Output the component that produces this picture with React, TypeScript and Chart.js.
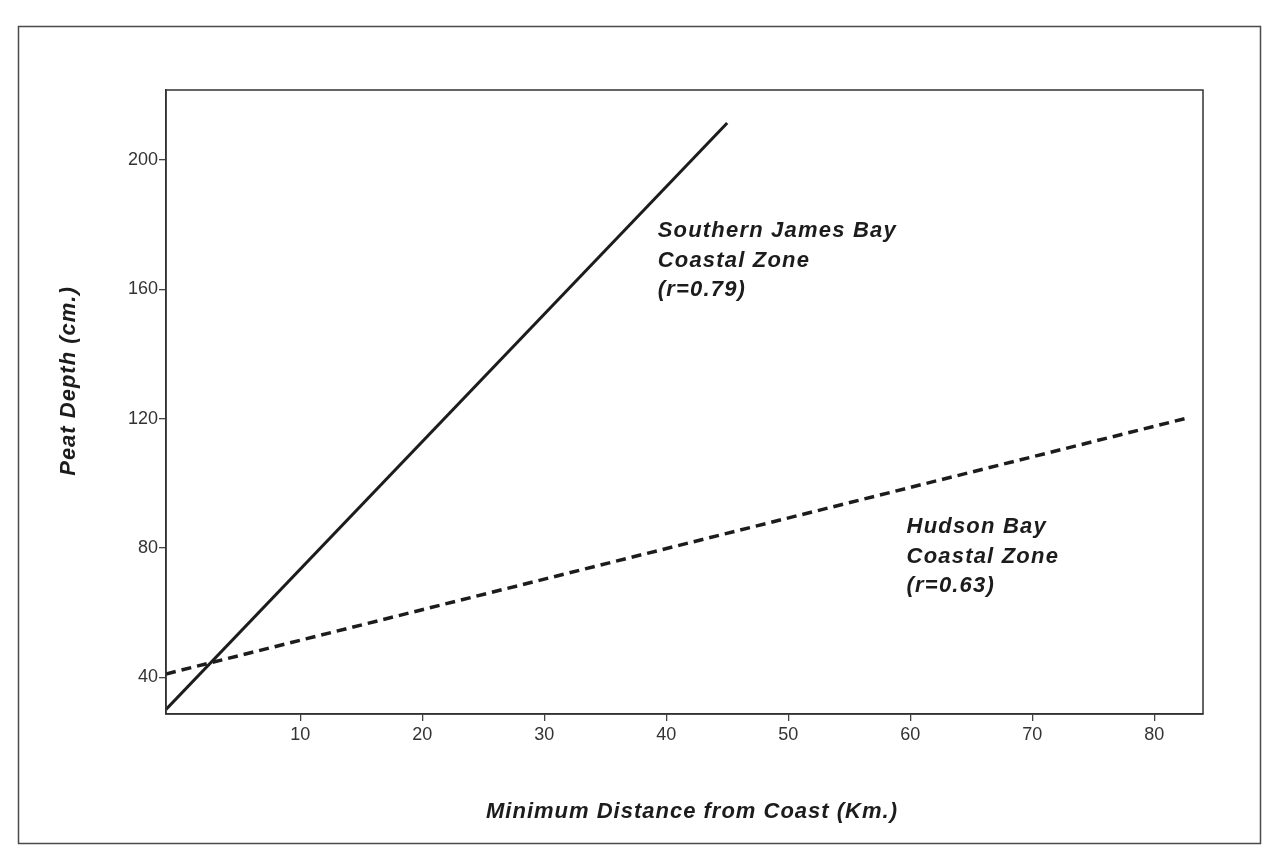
import React, { useEffect, useRef } from "react";
import { Chart, registerables } from "chart.js";

Chart.register(...registerables);

// ---- data ----
const xTicks = [10, 20, 30, 40, 50, 60, 70, 80];
const yTicks = [40, 80, 120, 160, 200];
const southernX = [-1, 45];
const southernY = [30, 211.5];
const hudsonX = [-1, 82.5];
const hudsonY = [41, 120];
const xTitle = "Minimum Distance from Coast (Km.)";
const yTitle = "Peat Depth (cm.)";
const southernLabel = ["Southern James Bay", "Coastal Zone", "(r=0.79)"];
const hudsonLabel = ["Hudson Bay", "Coastal Zone", "(r=0.63)"];
const southernLabelAt = [39.3, 176.2];
const hudsonLabelAt = [59.7, 84.6];

const FAMILY = "'Liberation Sans', Arial, Helvetica, sans-serif";
const INK = "#1c1c1c";

const decorPlugin = {
  id: "decor",
  afterDraw(chart: any) {
    const { ctx, chartArea, scales } = chart;
    ctx.save();
    // outer frame
    ctx.strokeStyle = "#4a4a4a";
    ctx.lineWidth = 1.5;
    ctx.strokeRect(18.5, 26.5, 1242, 817);
    // plot box
    ctx.strokeStyle = "#333";
    ctx.lineWidth = 1.5;
    ctx.strokeRect(chartArea.left, chartArea.top, chartArea.right - chartArea.left, chartArea.bottom - chartArea.top);

    ctx.fillStyle = INK;
    (ctx as any).letterSpacing = "1px";
    ctx.font = `italic bold 22px ${FAMILY}`;
    // x title
    ctx.textAlign = "center";
    ctx.textBaseline = "alphabetic";
    ctx.fillText(xTitle, 692, 818);
    // y title
    ctx.save();
    ctx.translate(75, 381);
    ctx.rotate(-Math.PI / 2);
    ctx.fillText(yTitle, 0, 0);
    ctx.restore();

    // annotations
    ctx.textAlign = "left";
    (ctx as any).letterSpacing = "1.2px";
    const drawBlock = (lines: string[], at: number[]) => {
      const px = scales.x.getPixelForValue(at[0]);
      const py = scales.y.getPixelForValue(at[1]);
      lines.forEach((t, i) => ctx.fillText(t, px, py + i * 29.5));
    };
    drawBlock(southernLabel, southernLabelAt);
    drawBlock(hudsonLabel, hudsonLabelAt);
    ctx.restore();
  },
};

export default function App() {
  const ref = useRef<HTMLCanvasElement | null>(null);

  useEffect(() => {
    if (!ref.current) return;
    const tickFont = { size: 18, family: FAMILY };
    const chart = new Chart(ref.current, {
      type: "line",
      data: {
        datasets: [
          {
            label: "Southern James Bay Coastal Zone",
            data: southernX.map((x, i) => ({ x, y: southernY[i] })),
            borderColor: INK,
            borderWidth: 3,
            pointRadius: 0,
            fill: false,
          },
          {
            label: "Hudson Bay Coastal Zone",
            data: hudsonX.map((x, i) => ({ x, y: hudsonY[i] })),
            borderColor: INK,
            borderWidth: 3.5,
            borderDash: [10, 6],
            pointRadius: 0,
            fill: false,
          },
        ],
      },
      options: {
        animation: false,
        responsive: false,
        layout: { padding: { left: 106, right: 59, top: 90, bottom: 76 } },
        plugins: { legend: { display: false }, tooltip: { enabled: false } },
        scales: {
          x: {
            type: "linear",
            min: -1,
            max: 84,
            afterBuildTicks: (s: any) => {
              s.ticks = xTicks.map((v) => ({ value: v }));
            },
            afterFit: (s: any) => {
              s.height = 60;
            },
            grid: { drawOnChartArea: false, drawTicks: true, tickLength: 7, color: "#444", lineWidth: 1.3 },
            border: { display: true, color: "#333", width: 1.5 },
            ticks: {
              font: tickFont,
              color: "#333",
              padding: 3,
              maxRotation: 0,
              autoSkip: false,
              callback: (v: any) => String(v),
            },
          },
          y: {
            type: "linear",
            min: 28.6,
            max: 221.7,
            afterBuildTicks: (s: any) => {
              s.ticks = yTicks.map((v) => ({ value: v }));
            },
            afterFit: (s: any) => {
              s.width = 60;
            },
            grid: { drawOnChartArea: false, drawTicks: true, tickLength: 7, color: "#444", lineWidth: 1.3 },
            border: { display: true, color: "#333", width: 1.5 },
            ticks: {
              font: tickFont,
              color: "#333",
              padding: 1,
              autoSkip: false,
              callback: (v: any) => String(v),
            },
          },
        },
      },
      plugins: [decorPlugin],
    } as any);
    return () => chart.destroy();
  }, []);

  return (
    <div style={{ position: "absolute", left: 0, top: 0, width: 1262, height: 850, background: "#fff" }}>
      <canvas ref={ref} width={1262} height={850} style={{ display: "block" }} />
    </div>
  );
}
